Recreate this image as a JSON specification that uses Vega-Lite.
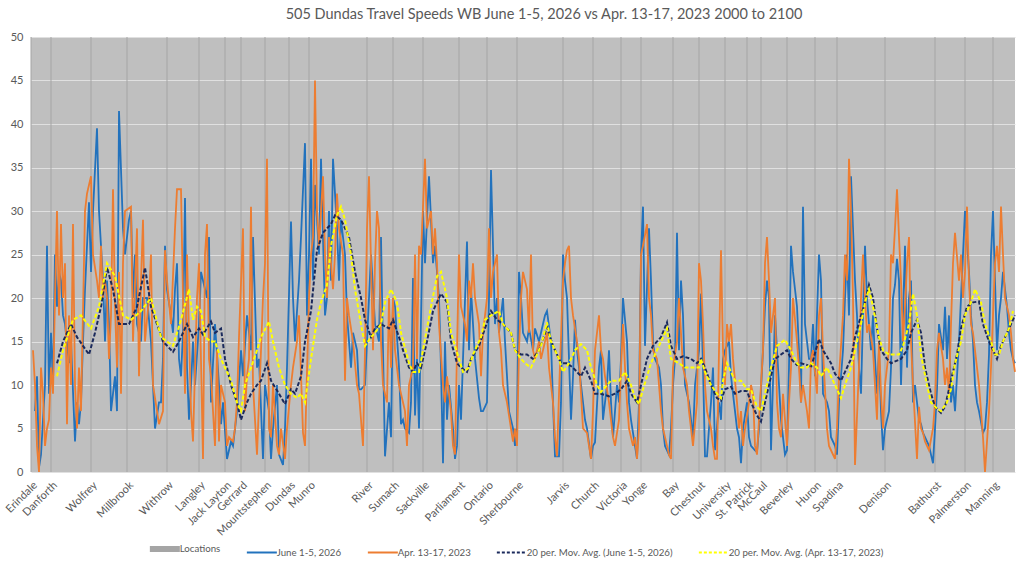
{
  "$schema": "https://vega.github.io/schema/vega-lite/v6.json",
  "description": "505 Dundas travel speeds westbound, June 1-5 2026 vs Apr. 13-17 2023, 2000 to 2100.",
  "autosize": {"type": "none"},
  "width": 984,
  "height": 435,
  "padding": {"left": 31, "top": 37, "right": 9, "bottom": 90},
  "background": "white",
  "title": {
    "text": "505 Dundas Travel Speeds WB June 1-5, 2026 vs Apr. 13-17, 2023 2000 to 2100",
    "font": "Lato",
    "fontSize": 14.5,
    "fontWeight": "normal",
    "color": "#595959",
    "offset": 9,
    "dx": 21,
    "anchor": "middle"
  },
  "datasets": {
    "loc": [
      {"x": 0, "name": "Erindale"}, {"x": 10, "name": "Danforth"}, {"x": 30, "name": "Wolfrey"},
      {"x": 48, "name": "Millbrook"}, {"x": 68, "name": "Withrow"}, {"x": 84, "name": "Langley"},
      {"x": 97, "name": "Jack Layton"}, {"x": 105, "name": "Gerrard"}, {"x": 117, "name": "Mountstephen"},
      {"x": 129, "name": "Dundas"}, {"x": 139, "name": "Munro"}, {"x": 168, "name": "River"},
      {"x": 181, "name": "Sumach"}, {"x": 196, "name": "Sackville"}, {"x": 214, "name": "Parliament"},
      {"x": 228, "name": "Ontario"}, {"x": 243, "name": "Sherbourne"}, {"x": 266, "name": "Jarvis"},
      {"x": 281, "name": "Church"}, {"x": 295, "name": "Victoria"}, {"x": 305, "name": "Yonge"},
      {"x": 321, "name": "Bay"}, {"x": 334, "name": "Chestnut"}, {"x": 347, "name": "University"},
      {"x": 358, "name": "St. Patrick"}, {"x": 365, "name": "McCaul"}, {"x": 378, "name": "Beverley"},
      {"x": 392, "name": "Huron"}, {"x": 403, "name": "Spadina"}, {"x": 427, "name": "Denison"},
      {"x": 452, "name": "Bathurst"}, {"x": 467, "name": "Palmerston"}, {"x": 481, "name": "Manning"}
    ],
    "june": [
      {"x":2,"y":7},{"x":3,"y":11},{"x":4,"y":0.5},{"x":5,"y":2},{"x":7,"y":10},{"x":8,"y":26},{"x":9,"y":9},{"x":10,"y":16},{"x":11,"y":10},{"x":12,"y":25},
      {"x":13,"y":19},{"x":14,"y":23},{"x":15,"y":22},{"x":16,"y":18},{"x":17,"y":17},{"x":19,"y":12.5},{"x":20,"y":15},{"x":22,"y":3.5},{"x":23,"y":8},{"x":24,"y":5.5},
      {"x":25,"y":8},{"x":26,"y":15},{"x":27,"y":21},{"x":28,"y":26},{"x":29,"y":31},{"x":30,"y":23},{"x":31,"y":30},{"x":33,"y":39.5},{"x":34,"y":30},{"x":36,"y":22},
      {"x":37,"y":15},{"x":38,"y":22},{"x":39,"y":17},{"x":40,"y":7},{"x":41,"y":9},{"x":42,"y":11},{"x":43,"y":7},{"x":44,"y":41.5},{"x":46,"y":28},{"x":47,"y":25},
      {"x":49,"y":29},{"x":50,"y":30},{"x":51,"y":20},{"x":52,"y":25},{"x":53,"y":17},{"x":55,"y":15},{"x":56,"y":20},{"x":58,"y":20},{"x":60,"y":15},{"x":61,"y":10},
      {"x":62,"y":5},{"x":64,"y":8},{"x":65,"y":8},{"x":66,"y":13},{"x":67,"y":26},{"x":68,"y":21},{"x":70,"y":18},{"x":71,"y":16},{"x":72,"y":21},{"x":73,"y":24},
      {"x":74,"y":13},{"x":75,"y":11},{"x":76,"y":16},{"x":77,"y":31.5},{"x":78,"y":12},{"x":79,"y":6},{"x":80,"y":10},{"x":81,"y":15},{"x":82,"y":10},{"x":84,"y":17},
      {"x":85,"y":23},{"x":87,"y":21},{"x":88,"y":20},{"x":89,"y":27},{"x":90,"y":8},{"x":92,"y":17},{"x":94,"y":10},{"x":95,"y":5.5},{"x":96,"y":8},{"x":98,"y":1.5},
      {"x":100,"y":3.5},{"x":101,"y":3},{"x":103,"y":7},{"x":105,"y":14},{"x":106,"y":11},{"x":108,"y":18},{"x":110,"y":14},{"x":111,"y":27},{"x":113,"y":12},{"x":114,"y":13},
      {"x":116,"y":1.5},{"x":117,"y":10},{"x":119,"y":7},{"x":120,"y":1.5},{"x":121,"y":5},{"x":123,"y":10},{"x":124,"y":2},{"x":126,"y":0.8},{"x":127,"y":5},{"x":128,"y":12},
      {"x":130,"y":28.8},{"x":131,"y":20},{"x":132,"y":15},{"x":134,"y":22},{"x":135,"y":27},{"x":137,"y":37.8},{"x":138,"y":18},{"x":139,"y":25},{"x":140,"y":36},{"x":141,"y":22},
      {"x":142,"y":33},{"x":144,"y":25},{"x":145,"y":36},{"x":146,"y":27},{"x":147,"y":18},{"x":148,"y":20},{"x":149,"y":30},{"x":150,"y":22},{"x":151,"y":36},{"x":153,"y":28},
      {"x":154,"y":22},{"x":155,"y":29},{"x":157,"y":25},{"x":158,"y":18},{"x":160,"y":12},{"x":161,"y":16},{"x":163,"y":14},{"x":164,"y":9.5},{"x":165,"y":9.5},{"x":167,"y":10},
      {"x":169,"y":20},{"x":170,"y":25},{"x":172,"y":17},{"x":174,"y":15},{"x":175,"y":27},{"x":176,"y":14},{"x":177,"y":1.8},{"x":179,"y":8},{"x":180,"y":4},{"x":181,"y":20},
      {"x":182,"y":19},{"x":184,"y":12},{"x":185,"y":5.5},{"x":186,"y":6},{"x":187,"y":5},{"x":189,"y":4.5},{"x":190,"y":8},{"x":191,"y":22.3},{"x":192,"y":6.5},{"x":193,"y":13},
      {"x":194,"y":5},{"x":196,"y":30},{"x":197,"y":24},{"x":199,"y":34},{"x":200,"y":29},{"x":201,"y":24},{"x":202,"y":26},{"x":204,"y":20},{"x":205,"y":12},{"x":206,"y":1},
      {"x":207,"y":15},{"x":208,"y":6},{"x":209,"y":10},{"x":211,"y":5},{"x":212,"y":1.5},{"x":213,"y":3},{"x":214,"y":10},{"x":215,"y":6},{"x":216,"y":13},{"x":218,"y":26.5},
      {"x":219,"y":14},{"x":220,"y":21},{"x":222,"y":13},{"x":224,"y":8.5},{"x":225,"y":7},{"x":226,"y":7},{"x":228,"y":8},{"x":229,"y":20},{"x":230,"y":34.7},{"x":231,"y":26},
      {"x":232,"y":17},{"x":233,"y":20},{"x":234,"y":16},{"x":236,"y":20},{"x":237,"y":15},{"x":238,"y":11},{"x":239,"y":7},{"x":241,"y":5},{"x":242,"y":3},{"x":243,"y":5},
      {"x":244,"y":23},{"x":245,"y":20},{"x":246,"y":16},{"x":248,"y":15},{"x":249,"y":16.5},{"x":251,"y":14},{"x":252,"y":16.5},{"x":254,"y":15},{"x":255,"y":16},{"x":257,"y":18},
      {"x":258,"y":18.5},{"x":260,"y":15},{"x":261,"y":8},{"x":262,"y":1.8},{"x":264,"y":1.8},{"x":265,"y":8},{"x":266,"y":25},{"x":267,"y":22},{"x":268,"y":20},{"x":270,"y":6},
      {"x":271,"y":11},{"x":272,"y":17.5},{"x":273,"y":14},{"x":274,"y":12},{"x":276,"y":8},{"x":277,"y":6},{"x":278,"y":5},{"x":280,"y":1.5},{"x":281,"y":3},{"x":282,"y":3.4},
      {"x":284,"y":12},{"x":285,"y":14},{"x":286,"y":6},{"x":288,"y":10},{"x":289,"y":14},{"x":290,"y":8},{"x":291,"y":4},{"x":293,"y":10},{"x":294,"y":8},{"x":295,"y":13},
      {"x":296,"y":20},{"x":298,"y":15},{"x":299,"y":8},{"x":300,"y":6},{"x":302,"y":3},{"x":303,"y":1.5},{"x":304,"y":8},{"x":305,"y":25},{"x":306,"y":30.5},{"x":307,"y":14.5},
      {"x":309,"y":28},{"x":310,"y":22},{"x":311,"y":15},{"x":312,"y":13},{"x":314,"y":12},{"x":315,"y":10},{"x":316,"y":5},{"x":317,"y":3},{"x":319,"y":2},{"x":320,"y":5},
      {"x":321,"y":10},{"x":322,"y":13},{"x":323,"y":27.5},{"x":324,"y":14},{"x":325,"y":22},{"x":326,"y":18},{"x":327,"y":10},{"x":329,"y":8},{"x":330,"y":6},{"x":331,"y":4},
      {"x":332,"y":10},{"x":334,"y":14},{"x":335,"y":20.5},{"x":336,"y":12},{"x":337,"y":1.8},{"x":338,"y":1.8},{"x":339,"y":5},{"x":340,"y":8},{"x":341,"y":12},{"x":342,"y":2.5},
      {"x":344,"y":8},{"x":345,"y":6},{"x":346,"y":13},{"x":347,"y":14},{"x":349,"y":15},{"x":350,"y":11},{"x":352,"y":7},{"x":353,"y":5},{"x":354,"y":4},{"x":355,"y":1},
      {"x":356,"y":5},{"x":358,"y":8},{"x":359,"y":4},{"x":360,"y":3},{"x":362,"y":2.5},{"x":363,"y":2.3},{"x":364,"y":5},{"x":366,"y":14},{"x":367,"y":19},{"x":368,"y":22},
      {"x":369,"y":20},{"x":370,"y":2.5},{"x":372,"y":18},{"x":373,"y":14},{"x":374,"y":10},{"x":375,"y":6},{"x":377,"y":2},{"x":378,"y":2.5},{"x":379,"y":12},{"x":380,"y":26},
      {"x":381,"y":23},{"x":383,"y":19},{"x":384,"y":14},{"x":385,"y":8},{"x":386,"y":30.5},{"x":387,"y":17},{"x":389,"y":13},{"x":390,"y":13},{"x":391,"y":17},{"x":392,"y":11},
      {"x":394,"y":25},{"x":395,"y":22},{"x":396,"y":9},{"x":398,"y":8},{"x":399,"y":7},{"x":400,"y":4},{"x":402,"y":3},{"x":403,"y":2},{"x":404,"y":8},{"x":406,"y":14},
      {"x":407,"y":20},{"x":408,"y":25},{"x":409,"y":18},{"x":410,"y":34},{"x":412,"y":22},{"x":413,"y":18},{"x":414,"y":12},{"x":415,"y":9},{"x":416,"y":18},{"x":417,"y":26},
      {"x":418,"y":20},{"x":420,"y":14},{"x":421,"y":18},{"x":422,"y":13},{"x":423,"y":9},{"x":424,"y":14},{"x":425,"y":7},{"x":426,"y":2.5},{"x":427,"y":5},{"x":429,"y":7},
      {"x":430,"y":12},{"x":431,"y":20},{"x":432,"y":21.5},{"x":433,"y":24.5},{"x":434,"y":22},{"x":435,"y":10},{"x":437,"y":26},{"x":438,"y":12},{"x":439,"y":20},{"x":440,"y":22},
      {"x":441,"y":8},{"x":442,"y":10},{"x":444,"y":6},{"x":445,"y":5.5},{"x":446,"y":4.5},{"x":447,"y":4},{"x":449,"y":3},{"x":450,"y":2},{"x":451,"y":1},{"x":452,"y":5},
      {"x":453,"y":9.5},{"x":454,"y":17},{"x":456,"y":14},{"x":457,"y":19},{"x":458,"y":13},{"x":459,"y":18},{"x":460,"y":8},{"x":461,"y":10},{"x":462,"y":7},{"x":463,"y":11},
      {"x":464,"y":15},{"x":465,"y":20},{"x":466,"y":25},{"x":467,"y":30},{"x":469,"y":23},{"x":470,"y":18},{"x":471,"y":15},{"x":472,"y":10},{"x":473,"y":8},{"x":474,"y":7},
      {"x":476,"y":4.5},{"x":477,"y":5},{"x":478,"y":8},{"x":479,"y":13.5},{"x":480,"y":25},{"x":481,"y":30},{"x":482,"y":22},{"x":483,"y":14},{"x":484,"y":18},{"x":485,"y":20},
      {"x":486,"y":23},{"x":488,"y":19},{"x":489,"y":16},{"x":490,"y":14},{"x":491,"y":13},{"x":492,"y":12.5}
    ],
    "apr": [
      {"x":1,"y":14},{"x":2,"y":10},{"x":3,"y":3},{"x":4,"y":0},{"x":5,"y":12},{"x":6,"y":9},{"x":7,"y":3},{"x":8,"y":5},{"x":9,"y":6},{"x":10,"y":12},
      {"x":11,"y":9},{"x":12,"y":20},{"x":13,"y":30},{"x":14,"y":18},{"x":15,"y":28.5},{"x":16,"y":20},{"x":17,"y":24},{"x":18,"y":5.5},{"x":19,"y":18},{"x":20,"y":10},
      {"x":21,"y":28.5},{"x":22,"y":10},{"x":23,"y":5},{"x":24,"y":12},{"x":25,"y":7},{"x":27,"y":30},{"x":28,"y":32},{"x":30,"y":34},{"x":31,"y":25},{"x":33,"y":22},
      {"x":34,"y":20},{"x":35,"y":26},{"x":36,"y":20},{"x":37,"y":22},{"x":38,"y":20},{"x":39,"y":13},{"x":40,"y":18},{"x":41,"y":32.5},{"x":42,"y":19},{"x":43,"y":12},
      {"x":44,"y":23},{"x":45,"y":9},{"x":46,"y":24},{"x":47,"y":30},{"x":50,"y":30.5},{"x":51,"y":15},{"x":53,"y":28},{"x":54,"y":11},{"x":55,"y":22},{"x":56,"y":29},
      {"x":57,"y":15},{"x":59,"y":20},{"x":60,"y":25},{"x":61,"y":10},{"x":64,"y":5.5},{"x":66,"y":7},{"x":67,"y":25.5},{"x":68,"y":22},{"x":70,"y":17},{"x":72,"y":28},
      {"x":73,"y":32.5},{"x":75,"y":32.5},{"x":76,"y":20},{"x":77,"y":9},{"x":78,"y":25},{"x":80,"y":7},{"x":81,"y":3.5},{"x":83,"y":20},{"x":84,"y":24},{"x":86,"y":1.5},
      {"x":87,"y":25},{"x":88,"y":28.5},{"x":89,"y":13},{"x":90,"y":11},{"x":92,"y":3},{"x":93,"y":14},{"x":94,"y":3.5},{"x":95,"y":10},{"x":97,"y":8},{"x":98,"y":3},
      {"x":99,"y":4},{"x":101,"y":3.5},{"x":102,"y":5},{"x":103,"y":8},{"x":104,"y":15.5},{"x":106,"y":28},{"x":107,"y":7},{"x":108,"y":11},{"x":109,"y":13},{"x":110,"y":30.5},
      {"x":111,"y":10},{"x":112,"y":6},{"x":113,"y":2},{"x":114,"y":8},{"x":116,"y":20},{"x":117,"y":24},{"x":118,"y":36},{"x":119,"y":5},{"x":120,"y":4},{"x":121,"y":10},
      {"x":123,"y":3},{"x":124,"y":2},{"x":125,"y":5},{"x":127,"y":1.5},{"x":128,"y":5},{"x":130,"y":10},{"x":131,"y":12},{"x":133,"y":15},{"x":134,"y":18},{"x":136,"y":4.5},
      {"x":137,"y":3},{"x":139,"y":20},{"x":140,"y":25},{"x":141,"y":27},{"x":142,"y":45},{"x":143,"y":30},{"x":144,"y":26},{"x":146,"y":34},{"x":147,"y":25},{"x":148,"y":20},
      {"x":149,"y":27},{"x":151,"y":21},{"x":152,"y":25},{"x":153,"y":32},{"x":154,"y":28},{"x":156,"y":25},{"x":157,"y":10.5},{"x":158,"y":20},{"x":159,"y":18},{"x":161,"y":15},
      {"x":163,"y":10},{"x":164,"y":9},{"x":165,"y":6},{"x":166,"y":3},{"x":167,"y":14},{"x":168,"y":28},{"x":169,"y":34},{"x":171,"y":14},{"x":172,"y":24},{"x":173,"y":30},
      {"x":174,"y":28},{"x":175,"y":15},{"x":176,"y":10},{"x":178,"y":8},{"x":179,"y":20},{"x":180,"y":12},{"x":181,"y":20},{"x":182,"y":14},{"x":184,"y":10},{"x":185,"y":9},
      {"x":187,"y":7},{"x":188,"y":3},{"x":189,"y":10},{"x":191,"y":12},{"x":192,"y":25},{"x":193,"y":13},{"x":194,"y":26},{"x":195,"y":25},{"x":197,"y":36},{"x":198,"y":28},
      {"x":200,"y":30},{"x":201,"y":25},{"x":202,"y":28},{"x":203,"y":24},{"x":204,"y":17},{"x":206,"y":10},{"x":207,"y":8},{"x":208,"y":11},{"x":210,"y":7},{"x":211,"y":3},
      {"x":212,"y":2},{"x":213,"y":14},{"x":214,"y":25},{"x":215,"y":19},{"x":217,"y":17},{"x":218,"y":15},{"x":219,"y":22},{"x":220,"y":20},{"x":221,"y":24},{"x":222,"y":20},
      {"x":224,"y":17},{"x":225,"y":11},{"x":226,"y":16},{"x":228,"y":20},{"x":229,"y":28},{"x":230,"y":20},{"x":231,"y":23},{"x":233,"y":25},{"x":234,"y":16},{"x":235,"y":14},
      {"x":236,"y":10},{"x":238,"y":8},{"x":240,"y":5},{"x":241,"y":3.5},{"x":242,"y":5},{"x":243,"y":3},{"x":244,"y":14},{"x":245,"y":20},{"x":246,"y":23},{"x":248,"y":21},
      {"x":249,"y":16},{"x":250,"y":25},{"x":251,"y":14},{"x":252,"y":13},{"x":254,"y":15},{"x":255,"y":13},{"x":256,"y":14},{"x":258,"y":16},{"x":259,"y":12},{"x":261,"y":8},
      {"x":262,"y":4},{"x":263,"y":1.8},{"x":264,"y":9},{"x":266,"y":22},{"x":267,"y":24},{"x":268,"y":25.5},{"x":269,"y":26},{"x":270,"y":20},{"x":271,"y":18},{"x":273,"y":15},
      {"x":274,"y":13},{"x":275,"y":9},{"x":276,"y":5},{"x":278,"y":4.5},{"x":279,"y":3},{"x":280,"y":1.5},{"x":281,"y":7},{"x":282,"y":14},{"x":284,"y":18},{"x":285,"y":14},
      {"x":286,"y":13},{"x":287,"y":11},{"x":289,"y":8},{"x":290,"y":6},{"x":291,"y":4},{"x":292,"y":3},{"x":294,"y":6},{"x":295,"y":12},{"x":296,"y":17},{"x":297,"y":12},
      {"x":298,"y":8},{"x":299,"y":5},{"x":301,"y":3},{"x":302,"y":4},{"x":303,"y":1.5},{"x":304,"y":5},{"x":305,"y":25},{"x":306,"y":26},{"x":308,"y":28.5},{"x":309,"y":20},
      {"x":310,"y":18},{"x":311,"y":14},{"x":313,"y":13},{"x":314,"y":10},{"x":315,"y":7},{"x":316,"y":5},{"x":318,"y":3},{"x":319,"y":2},{"x":320,"y":1.5},{"x":321,"y":12},
      {"x":323,"y":15},{"x":324,"y":20},{"x":325,"y":16},{"x":326,"y":12},{"x":328,"y":10},{"x":329,"y":7},{"x":330,"y":5},{"x":331,"y":3},{"x":333,"y":8},{"x":334,"y":24},
      {"x":335,"y":22},{"x":336,"y":17},{"x":337,"y":10},{"x":338,"y":7},{"x":340,"y":5},{"x":341,"y":3},{"x":342,"y":1.5},{"x":343,"y":1.5},{"x":344,"y":14},{"x":345,"y":25.5},
      {"x":346,"y":14},{"x":347,"y":10},{"x":348,"y":17},{"x":349,"y":15},{"x":350,"y":17},{"x":351,"y":13},{"x":353,"y":8},{"x":354,"y":5},{"x":355,"y":7},{"x":356,"y":3},
      {"x":357,"y":5},{"x":359,"y":8},{"x":360,"y":10},{"x":361,"y":9},{"x":362,"y":3},{"x":363,"y":2},{"x":364,"y":6},{"x":366,"y":14},{"x":367,"y":24},{"x":368,"y":27},
      {"x":369,"y":22},{"x":370,"y":16},{"x":372,"y":20},{"x":373,"y":8},{"x":374,"y":5},{"x":375,"y":4},{"x":376,"y":9},{"x":378,"y":3},{"x":379,"y":8},{"x":380,"y":12},
      {"x":381,"y":20},{"x":383,"y":15},{"x":384,"y":12},{"x":385,"y":8},{"x":386,"y":10},{"x":388,"y":7},{"x":389,"y":5},{"x":390,"y":13},{"x":391,"y":14},{"x":393,"y":9},
      {"x":394,"y":18},{"x":395,"y":20},{"x":396,"y":14},{"x":398,"y":5},{"x":399,"y":3},{"x":400,"y":2.5},{"x":402,"y":1.5},{"x":403,"y":5},{"x":404,"y":11},{"x":406,"y":18},
      {"x":407,"y":25},{"x":408,"y":22},{"x":409,"y":36},{"x":410,"y":30},{"x":411,"y":20},{"x":412,"y":0.8},{"x":414,"y":12},{"x":415,"y":20},{"x":416,"y":25},{"x":417,"y":20},
      {"x":418,"y":16},{"x":419,"y":17},{"x":421,"y":14},{"x":422,"y":10},{"x":423,"y":6},{"x":424,"y":15},{"x":425,"y":9},{"x":426,"y":5},{"x":427,"y":10},{"x":429,"y":14},
      {"x":430,"y":25},{"x":431,"y":24},{"x":432,"y":28},{"x":433,"y":32.5},{"x":434,"y":27},{"x":435,"y":22},{"x":436,"y":15},{"x":437,"y":19},{"x":438,"y":24},{"x":439,"y":27},
      {"x":440,"y":15},{"x":441,"y":10},{"x":443,"y":1.5},{"x":444,"y":7.5},{"x":445,"y":5},{"x":446,"y":4.5},{"x":447,"y":3.5},{"x":448,"y":3},{"x":449,"y":2.5},{"x":451,"y":5},
      {"x":452,"y":8},{"x":453,"y":14},{"x":454,"y":16},{"x":456,"y":13},{"x":457,"y":10},{"x":458,"y":12},{"x":459,"y":9},{"x":460,"y":17},{"x":461,"y":24},{"x":462,"y":27.5},
      {"x":464,"y":22},{"x":465,"y":25},{"x":466,"y":20},{"x":467,"y":23},{"x":468,"y":30.5},{"x":469,"y":22},{"x":470,"y":17},{"x":471,"y":16},{"x":473,"y":12},{"x":474,"y":10},
      {"x":475,"y":7},{"x":476,"y":4},{"x":477,"y":0},{"x":479,"y":7},{"x":480,"y":12},{"x":481,"y":18},{"x":482,"y":24},{"x":483,"y":26},{"x":484,"y":23},{"x":485,"y":30.5},
      {"x":486,"y":25},{"x":487,"y":20},{"x":489,"y":18},{"x":490,"y":16},{"x":491,"y":13},{"x":492,"y":11.5}
    ],
    "ma_june": [
      {"x":13,"y":12.5},{"x":16,"y":15},{"x":20,"y":17},{"x":23,"y":15.5},{"x":26,"y":14.5},{"x":29,"y":13.5},{"x":32,"y":16},{"x":35,"y":19},{"x":38,"y":23.5},{"x":41,"y":21},
      {"x":44,"y":17},{"x":49,"y":17},{"x":53,"y":19},{"x":57,"y":23.5},{"x":60,"y":19},{"x":66,"y":15},{"x":71,"y":13.8},{"x":74,"y":15},{"x":78,"y":17},{"x":81,"y":15.5},
      {"x":84,"y":16.5},{"x":86,"y":15.8},{"x":90,"y":17.3},{"x":92,"y":16},{"x":95,"y":16.5},{"x":97,"y":13},{"x":100,"y":10},{"x":103,"y":8},{"x":105,"y":6},{"x":108,"y":8},
      {"x":110,"y":9},{"x":113,"y":10},{"x":115,"y":10.5},{"x":118,"y":12.5},{"x":120,"y":10.5},{"x":124,"y":9},{"x":127,"y":7.8},{"x":130,"y":9.5},{"x":132,"y":9},{"x":135,"y":11},
      {"x":137,"y":15},{"x":140,"y":18.5},{"x":143,"y":25.5},{"x":146,"y":27.5},{"x":150,"y":28.5},{"x":152,"y":29.5},{"x":155,"y":29},{"x":159,"y":27},{"x":162,"y":23},{"x":165,"y":20},
      {"x":167,"y":17.5},{"x":170,"y":15.5},{"x":172,"y":16.5},{"x":175,"y":17},{"x":179,"y":16.5},{"x":181,"y":17.5},{"x":184,"y":15.5},{"x":186,"y":14},{"x":189,"y":12},{"x":191,"y":11.5},
      {"x":193,"y":12.5},{"x":195,"y":12},{"x":198,"y":15},{"x":201,"y":18.5},{"x":205,"y":20.5},{"x":208,"y":19.5},{"x":210,"y":15},{"x":213,"y":12.5},{"x":215,"y":12},{"x":218,"y":11.5},
      {"x":220,"y":13},{"x":224,"y":14.5},{"x":227,"y":16.5},{"x":230,"y":18.5},{"x":233,"y":17.5},{"x":236,"y":17},{"x":240,"y":16},{"x":242,"y":14},{"x":245,"y":13.5},{"x":248,"y":13.5},
      {"x":251,"y":13},{"x":254,"y":14},{"x":258,"y":16.6},{"x":261,"y":14.5},{"x":265,"y":12.5},{"x":268,"y":12.5},{"x":271,"y":12},{"x":275,"y":11},{"x":277,"y":12},{"x":280,"y":10.5},
      {"x":282,"y":9},{"x":285,"y":9},{"x":289,"y":8.7},{"x":292,"y":9},{"x":295,"y":9.5},{"x":298,"y":10.5},{"x":300,"y":9},{"x":303,"y":8},{"x":305,"y":10},{"x":308,"y":13},
      {"x":311,"y":14.5},{"x":315,"y":15.5},{"x":318,"y":17.2},{"x":320,"y":14.5},{"x":323,"y":13},{"x":326,"y":13.3},{"x":330,"y":13},{"x":333,"y":12.5},{"x":335,"y":13},{"x":337,"y":12},
      {"x":340,"y":10},{"x":343,"y":8.5},{"x":345,"y":8.2},{"x":347,"y":9.5},{"x":350,"y":9.8},{"x":352,"y":9},{"x":355,"y":9.3},{"x":358,"y":9.3},{"x":360,"y":8},{"x":363,"y":6.5},
      {"x":365,"y":5.8},{"x":367,"y":8},{"x":370,"y":11},{"x":372,"y":13},{"x":375,"y":13.5},{"x":378,"y":14},{"x":380,"y":13},{"x":383,"y":12.3},{"x":385,"y":12.5},{"x":388,"y":12.3},
      {"x":390,"y":12},{"x":394,"y":15.3},{"x":396,"y":14},{"x":400,"y":12.5},{"x":402,"y":11.3},{"x":405,"y":10.5},{"x":407,"y":11.5},{"x":410,"y":13},{"x":412,"y":15.5},{"x":415,"y":18},
      {"x":417,"y":19.5},{"x":419,"y":21.5},{"x":421,"y":20},{"x":423,"y":16.5},{"x":425,"y":14},{"x":428,"y":13},{"x":430,"y":12.5},{"x":433,"y":12.8},{"x":435,"y":13},{"x":438,"y":14},
      {"x":440,"y":16},{"x":443,"y":17.5},{"x":445,"y":16},{"x":447,"y":12},{"x":450,"y":9},{"x":452,"y":7.5},{"x":455,"y":6.8},{"x":457,"y":7.5},{"x":458,"y":8.5},{"x":460,"y":10.5},
      {"x":463,"y":13.5},{"x":465,"y":16.5},{"x":468,"y":19},{"x":471,"y":19.5},{"x":474,"y":19.6},{"x":476,"y":17},{"x":479,"y":15},{"x":481,"y":14},{"x":483,"y":13},{"x":485,"y":14.5},
      {"x":488,"y":16},{"x":490,"y":17},{"x":492,"y":18}
    ],
    "ma_apr": [
      {"x":13,"y":11},{"x":16,"y":14},{"x":21,"y":17.5},{"x":25,"y":18},{"x":30,"y":16.5},{"x":34,"y":19},{"x":38,"y":24},{"x":42,"y":22.5},{"x":46,"y":18},{"x":50,"y":17.5},
      {"x":55,"y":18.5},{"x":60,"y":20},{"x":65,"y":15.5},{"x":71,"y":14.5},{"x":75,"y":17.5},{"x":79,"y":21},{"x":81,"y":17.5},{"x":83,"y":19},{"x":85,"y":18.5},{"x":87,"y":15.5},
      {"x":90,"y":15},{"x":92,"y":15},{"x":95,"y":13},{"x":100,"y":10.5},{"x":103,"y":8},{"x":105,"y":7},{"x":107,"y":10},{"x":110,"y":12},{"x":113,"y":14},{"x":115,"y":15.5},
      {"x":119,"y":17.3},{"x":121,"y":15},{"x":124,"y":12},{"x":127,"y":10},{"x":130,"y":9},{"x":133,"y":8.5},{"x":135,"y":9},{"x":137,"y":8},{"x":140,"y":13},{"x":143,"y":17.5},
      {"x":145,"y":19.5},{"x":148,"y":21.5},{"x":150,"y":26},{"x":153,"y":29.5},{"x":155,"y":30.5},{"x":157,"y":29},{"x":160,"y":25},{"x":162,"y":21},{"x":165,"y":17},{"x":167,"y":14.5},
      {"x":170,"y":15.5},{"x":172,"y":16},{"x":175,"y":17},{"x":177,"y":19.5},{"x":180,"y":21},{"x":183,"y":19.5},{"x":185,"y":16},{"x":189,"y":12.5},{"x":191,"y":11.5},{"x":194,"y":11.5},
      {"x":196,"y":14},{"x":200,"y":19},{"x":203,"y":22.5},{"x":205,"y":23},{"x":208,"y":20},{"x":210,"y":16},{"x":214,"y":13},{"x":216,"y":11.5},{"x":219,"y":12},{"x":221,"y":13.5},
      {"x":225,"y":15.5},{"x":227,"y":17.5},{"x":230,"y":18},{"x":234,"y":18.5},{"x":236,"y":17},{"x":240,"y":16},{"x":242,"y":14},{"x":245,"y":13},{"x":247,"y":12.5},{"x":250,"y":12},
      {"x":252,"y":13},{"x":255,"y":14.5},{"x":258,"y":17.2},{"x":260,"y":15},{"x":264,"y":13},{"x":266,"y":11.5},{"x":269,"y":12.5},{"x":272,"y":14},{"x":275,"y":14.7},{"x":278,"y":14},
      {"x":280,"y":12},{"x":283,"y":10},{"x":285,"y":9.2},{"x":288,"y":10},{"x":290,"y":10.5},{"x":294,"y":10.5},{"x":297,"y":11.5},{"x":300,"y":10},{"x":302,"y":8.5},{"x":304,"y":7.8},
      {"x":306,"y":9.5},{"x":310,"y":12.5},{"x":313,"y":14},{"x":316,"y":15.5},{"x":318,"y":16.5},{"x":320,"y":13},{"x":324,"y":12.5},{"x":327,"y":12},{"x":331,"y":12},{"x":334,"y":12},
      {"x":335,"y":13},{"x":337,"y":11.5},{"x":340,"y":10},{"x":343,"y":9},{"x":345,"y":8.5},{"x":346,"y":10.5},{"x":348,"y":12.5},{"x":350,"y":11.5},{"x":352,"y":10.5},{"x":355,"y":10.5},
      {"x":358,"y":9.5},{"x":360,"y":9.5},{"x":363,"y":7.5},{"x":365,"y":7},{"x":367,"y":9},{"x":370,"y":12},{"x":373,"y":14.5},{"x":377,"y":15.2},{"x":380,"y":14},{"x":383,"y":12.5},
      {"x":385,"y":12},{"x":388,"y":12},{"x":390,"y":12.5},{"x":393,"y":12},{"x":395,"y":11},{"x":398,"y":12},{"x":400,"y":11},{"x":403,"y":9.5},{"x":405,"y":8.5},{"x":407,"y":10},
      {"x":410,"y":12},{"x":412,"y":14},{"x":415,"y":17},{"x":417,"y":19.5},{"x":419,"y":21},{"x":421,"y":19},{"x":424,"y":15.5},{"x":426,"y":14},{"x":429,"y":13.5},{"x":431,"y":13.5},
      {"x":434,"y":13.5},{"x":436,"y":14.5},{"x":439,"y":17},{"x":441,"y":20.5},{"x":443,"y":18},{"x":445,"y":13.5},{"x":448,"y":10},{"x":450,"y":8},{"x":453,"y":7.3},{"x":455,"y":7},
      {"x":458,"y":8},{"x":460,"y":9.5},{"x":462,"y":12.5},{"x":465,"y":15},{"x":467,"y":18},{"x":470,"y":19.5},{"x":472,"y":21},{"x":475,"y":19.5},{"x":477,"y":17},{"x":480,"y":15},
      {"x":482,"y":13.5},{"x":484,"y":13.5},{"x":486,"y":15},{"x":489,"y":16.5},{"x":491,"y":18.5}
    ]
  },
  "encoding": {
    "x": {
      "field": "x",
      "type": "quantitative",
      "scale": {"domain": [0, 492], "nice": false, "zero": false},
      "axis": {
        "title": null,
        "values": [0, 10, 30, 48, 68, 84, 97, 105, 117, 129, 139, 168, 181, 196, 214, 228, 243, 266, 281, 295, 305, 321, 334, 347, 358, 365, 378, 392, 403, 427, 452, 467, 481],
        "labelExpr": "['Erindale','Danforth','Wolfrey','Millbrook','Withrow','Langley','Jack Layton','Gerrard','Mountstephen','Dundas','Munro','River','Sumach','Sackville','Parliament','Ontario','Sherbourne','Jarvis','Church','Victoria','Yonge','Bay','Chestnut','University','St. Patrick','McCaul','Beverley','Huron','Spadina','Denison','Bathurst','Palmerston','Manning'][indexof([0,10,30,48,68,84,97,105,117,129,139,168,181,196,214,228,243,266,281,295,305,321,334,347,358,365,378,392,403,427,452,467,481], datum.value)]",
        "labelAngle": -45,
        "labelAlign": "right",
        "labelBaseline": "top",
        "labelPadding": 7,
        "labelOverlap": false,
        "labelFlush": false,
        "labelBound": false,
        "grid": false,
        "ticks": false,
        "domain": false
      }
    }
  },
  "layer": [
    {
      "data": {"name": "loc"},
      "mark": {"type": "rule", "strokeWidth": 1},
      "encoding": {
        "color": {
          "datum": "Locations",
          "type": "nominal",
          "title": null,
          "scale": {
            "domain": ["Locations", "June 1-5, 2026", "Apr. 13-17, 2023", "20 per. Mov. Avg. (June 1-5, 2026)", "20 per. Mov. Avg. (Apr. 13-17, 2023)"],
            "range": ["#a5a5a5", "#2272bd", "#ed7d31", "#1b2a5c", "#ffff00"]
          },
          "legend": {
            "orient": "none",
            "direction": "horizontal",
            "legendX": 129,
            "legendY": 507,
            "encode": {
              "symbols": {
                "update": {
                  "strokeWidth": {"signal": "datum.value === 'Locations' ? 6 : 2"},
                  "strokeDash": {"signal": "indexof(datum.value, 'Mov') >= 0 ? [3, 2] : [1, 0]"}
                }
              }
            }
          }
        }
      }
    },
    {
      "data": {"name": "june"},
      "mark": {"type": "line", "strokeWidth": 1.8},
      "encoding": {
        "y": {"field": "y", "type": "quantitative", "title": null, "scale": {"domain": [0, 50]}},
        "color": {
          "datum": "June 1-5, 2026", "type": "nominal", "title": null,
          "scale": {
            "domain": ["Locations", "June 1-5, 2026", "Apr. 13-17, 2023", "20 per. Mov. Avg. (June 1-5, 2026)", "20 per. Mov. Avg. (Apr. 13-17, 2023)"],
            "range": ["#a5a5a5", "#2272bd", "#ed7d31", "#1b2a5c", "#ffff00"]
          }
        }
      }
    },
    {
      "data": {"name": "apr"},
      "mark": {"type": "line", "strokeWidth": 1.8},
      "encoding": {
        "y": {"field": "y", "type": "quantitative", "title": null, "scale": {"domain": [0, 50]}},
        "color": {
          "datum": "Apr. 13-17, 2023", "type": "nominal", "title": null,
          "scale": {
            "domain": ["Locations", "June 1-5, 2026", "Apr. 13-17, 2023", "20 per. Mov. Avg. (June 1-5, 2026)", "20 per. Mov. Avg. (Apr. 13-17, 2023)"],
            "range": ["#a5a5a5", "#2272bd", "#ed7d31", "#1b2a5c", "#ffff00"]
          }
        }
      }
    },
    {
      "data": {"name": "ma_june"},
      "mark": {"type": "line", "strokeWidth": 2, "strokeDash": [4, 2]},
      "encoding": {
        "y": {"field": "y", "type": "quantitative", "title": null, "scale": {"domain": [0, 50]}},
        "color": {
          "datum": "20 per. Mov. Avg. (June 1-5, 2026)", "type": "nominal", "title": null,
          "scale": {
            "domain": ["Locations", "June 1-5, 2026", "Apr. 13-17, 2023", "20 per. Mov. Avg. (June 1-5, 2026)", "20 per. Mov. Avg. (Apr. 13-17, 2023)"],
            "range": ["#a5a5a5", "#2272bd", "#ed7d31", "#1b2a5c", "#ffff00"]
          }
        }
      }
    },
    {
      "data": {"name": "ma_apr"},
      "mark": {"type": "line", "strokeWidth": 2, "strokeDash": [4, 2]},
      "encoding": {
        "y": {"field": "y", "type": "quantitative", "title": null, "scale": {"domain": [0, 50]}},
        "color": {
          "datum": "20 per. Mov. Avg. (Apr. 13-17, 2023)", "type": "nominal", "title": null,
          "scale": {
            "domain": ["Locations", "June 1-5, 2026", "Apr. 13-17, 2023", "20 per. Mov. Avg. (June 1-5, 2026)", "20 per. Mov. Avg. (Apr. 13-17, 2023)"],
            "range": ["#a5a5a5", "#2272bd", "#ed7d31", "#1b2a5c", "#ffff00"]
          }
        }
      }
    }
  ],
  "config": {
    "font": "Lato",
    "view": {"fill": "#bfbfbf", "stroke": null},
    "axis": {"labelColor": "#595959", "labelFont": "Lato", "labelFontSize": 11},
    "axisY": {"domain": false, "ticks": false, "tickCount": 10, "gridColor": "#e0e0e0", "gridWidth": 1, "labelPadding": 8},
    "legend": {
      "labelColor": "#595959",
      "labelFont": "Lato",
      "labelFontSize": 9.7,
      "labelLimit": 300,
      "symbolType": "stroke",
      "symbolSize": 900,
      "labelOffset": 10,
      "columnPadding": 21
    }
  }
}
